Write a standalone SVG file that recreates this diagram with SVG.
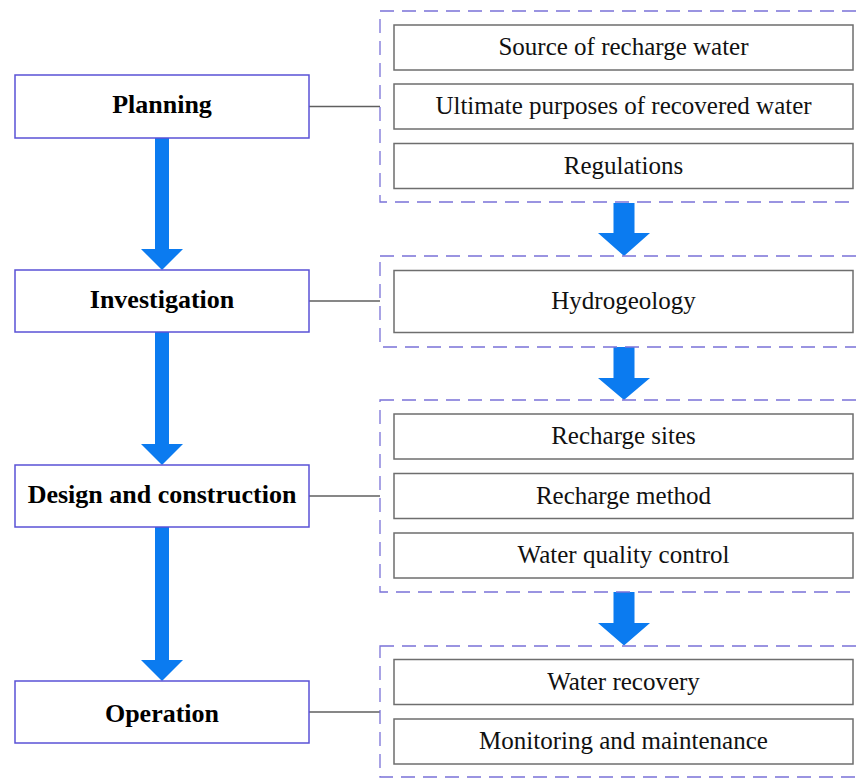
<svg xmlns="http://www.w3.org/2000/svg" width="856" height="778" viewBox="0 0 856 778">
  <style>
    .stage { fill: #ffffff; stroke: #5a52d6; stroke-width: 1.5; }
    .stage-label { font-family: "Liberation Serif", "Times New Roman", serif; font-weight: bold; font-size: 26px; fill: #000; text-anchor: middle; }
    .item { fill: #ffffff; stroke: #6e6e6e; stroke-width: 1.5; }
    .item-label { font-family: "Liberation Serif", "Times New Roman", serif; font-size: 25px; fill: #111; text-anchor: middle; }
    .group { fill: none; stroke: #7a72d8; stroke-width: 1.3; stroke-dasharray: 14 8; }
    .link { stroke: #5f5f5f; stroke-width: 1.3; fill: none; }
    .flow { fill: #0b7bf0; }
  </style>
  <rect width="856" height="778" fill="#ffffff"/>

  <!-- connectors: stage links and flow arrows -->
  <g id="connectors">
    <line class="link" x1="309" y1="106.5" x2="380" y2="106.5"/>
    <line class="link" x1="309" y1="301" x2="380" y2="301"/>
    <line class="link" x1="309" y1="496" x2="380" y2="496"/>
    <line class="link" x1="309" y1="712" x2="380" y2="712"/>

    <!-- main stage arrows -->
    <polygon class="flow" points="155,138 169,138 169,249 183,249 162,270 141,249 155,249"/>
    <polygon class="flow" points="155,332 169,332 169,444 183,444 162,465 141,444 155,444"/>
    <polygon class="flow" points="155,527 169,527 169,660 183,660 162,681 141,660 155,660"/>

    <!-- arrows between detail groups -->
    <polygon class="flow" points="613.5,203 634.5,203 634.5,233 650,233 624,256 598,233 613.5,233"/>
    <polygon class="flow" points="613.5,347 634.5,347 634.5,378 650,378 624,400 598,378 613.5,378"/>
    <polygon class="flow" points="613.5,592 634.5,592 634.5,623 650,623 624,645.5 598,623 613.5,623"/>
  </g>

  <!-- stage nodes -->
  <g id="planning">
    <rect class="stage" x="15" y="75" width="294" height="63"/>
    <text class="stage-label" x="162" y="113">Planning</text>
  </g>
  <g id="investigation">
    <rect class="stage" x="15" y="270" width="294" height="62"/>
    <text class="stage-label" x="162" y="308">Investigation</text>
  </g>
  <g id="design">
    <rect class="stage" x="15" y="465" width="294" height="62"/>
    <text class="stage-label" x="162" y="503">Design and construction</text>
  </g>
  <g id="operation">
    <rect class="stage" x="15" y="681" width="294" height="62"/>
    <text class="stage-label" x="162" y="721.5">Operation</text>
  </g>

  <!-- detail groups -->
  <g id="planning-details">
    <rect class="group" x="380" y="11" width="480" height="191"/>
    <rect class="item" x="394" y="25" width="459" height="45"/>
    <text class="item-label" x="623.5" y="55">Source of recharge water</text>
    <rect class="item" x="394" y="84" width="459" height="45"/>
    <text class="item-label" x="623.5" y="114">Ultimate purposes of recovered water</text>
    <rect class="item" x="394" y="143.5" width="459" height="45"/>
    <text class="item-label" x="623.5" y="173.5">Regulations</text>
  </g>
  <g id="investigation-details">
    <rect class="group" x="380" y="256" width="480" height="91"/>
    <rect class="item" x="394" y="270.5" width="459" height="62"/>
    <text class="item-label" x="623.5" y="309">Hydrogeology</text>
  </g>
  <g id="design-details">
    <rect class="group" x="380" y="400" width="480" height="192"/>
    <rect class="item" x="394" y="414" width="459" height="45"/>
    <text class="item-label" x="623.5" y="444">Recharge sites</text>
    <rect class="item" x="394" y="473.5" width="459" height="45"/>
    <text class="item-label" x="623.5" y="503.5">Recharge method</text>
    <rect class="item" x="394" y="533" width="459" height="45"/>
    <text class="item-label" x="623.5" y="563">Water quality control</text>
  </g>
  <g id="operation-details">
    <rect class="group" x="380" y="646" width="480" height="131"/>
    <rect class="item" x="394" y="659.5" width="459" height="45"/>
    <text class="item-label" x="623.5" y="689.5">Water recovery</text>
    <rect class="item" x="394" y="719" width="459" height="45"/>
    <text class="item-label" x="623.5" y="749">Monitoring and maintenance</text>
  </g>
</svg>
